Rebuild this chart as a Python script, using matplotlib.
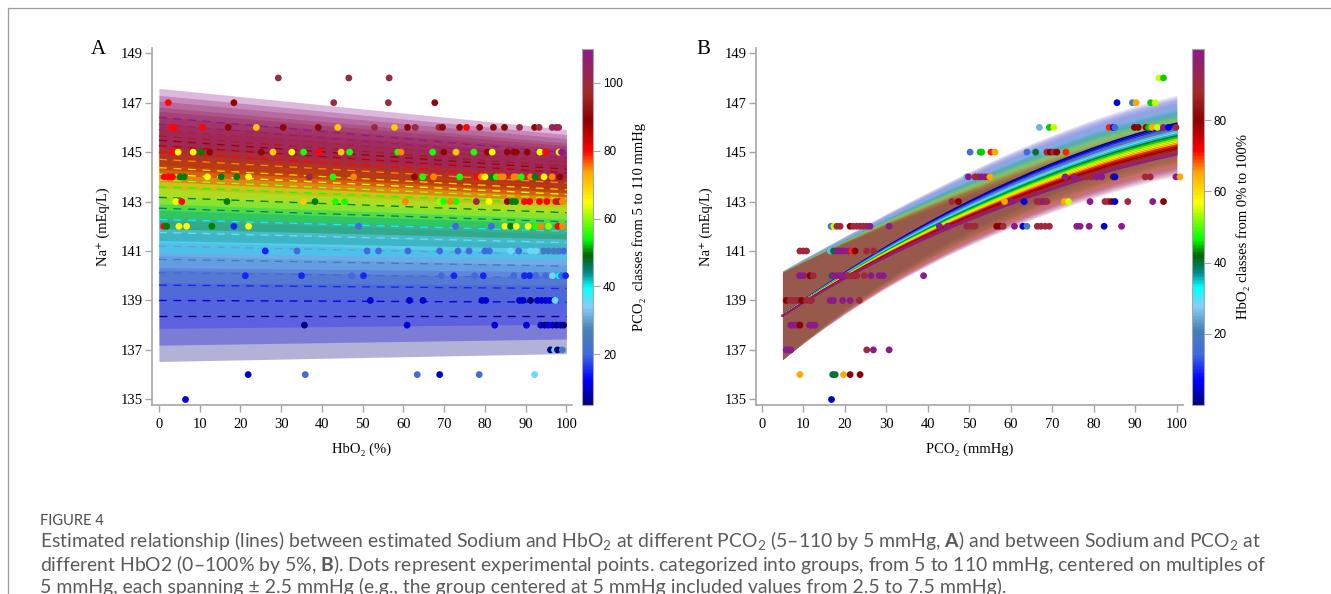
"""
Figure 4: estimated sodium vs HbO2 by PCO2 class (A) and vs PCO2 by HbO2 class (B).
"""

import matplotlib
matplotlib.use("Agg")
import matplotlib.pyplot as plt
import numpy as np
from matplotlib.cm import ScalarMappable
from matplotlib.colors import LinearSegmentedColormap, Normalize
from matplotlib.lines import Line2D

W, H = 1331, 594
SERIF = ["Liberation Serif", "DejaVu Serif"]
SANS = ["Liberation Sans", "DejaVu Sans"]
CAPTION = ["Lato", "DejaVu Sans"]

plt.rcParams["font.family"] = SERIF
plt.rcParams["mathtext.fontset"] = "custom"
plt.rcParams["mathtext.rm"] = "Lato"
plt.rcParams["mathtext.it"] = "Lato:italic"
plt.rcParams["mathtext.bf"] = "Lato:bold"

# class palette, positions given as fraction of the colour range
pal_pos = [0.0, 0.07, 0.14, 0.21, 0.275, 0.33, 0.37, 0.42, 0.465, 0.57, 0.655, 0.715, 0.80, 0.88, 1.0]
pal_col = ["#000080", "#0000ff", "#4169e1", "#4682b4", "#87cefa", "#00ffff", "#008b8b", "#006400",
           "#00ff00", "#ffff00", "#ffa500", "#ff0000", "#8b0000", "#a52a2a", "#8b1a8b"]

# ---------------- panel A: lines over HbO2 for each PCO2 class ----------------
pco2_classes = list(range(5, 111, 5))
a_na_hb0 = [138.38, 139.00, 139.62, 140.12, 140.66, 141.20, 141.75, 142.28, 142.73, 143.17, 143.60,
            143.87, 144.11, 144.37, 144.71, 144.99, 145.26, 145.48, 145.65, 145.90, 146.13, 146.41]
a_na_hb100 = [138.38, 138.93, 139.48, 139.91, 140.39, 140.86, 141.34, 141.80, 142.18, 142.55, 142.91,
              143.12, 143.29, 143.48, 143.75, 143.96, 144.16, 144.31, 144.42, 144.60, 144.76, 144.97]
a_hw_hb0 = [1.85, 1.81, 1.75, 1.66, 1.57, 1.49, 1.42, 1.36, 1.31, 1.27, 1.24,
            1.22, 1.20, 1.19, 1.18, 1.17, 1.17, 1.17, 1.17, 1.17, 1.17, 1.17]
a_hw_hb100 = [1.53, 1.49, 1.44, 1.37, 1.30, 1.24, 1.18, 1.13, 1.09, 1.06, 1.03,
              1.01, 0.99, 0.98, 0.97, 0.96, 0.96, 0.95, 0.95, 0.95, 0.95, 0.95]

a_dot_na = [148, 147, 146, 145, 144, 143, 142, 141, 140, 139, 138, 137, 136, 135]
a_dot_hbo2 = [
    [29.3, 46.6, 56.5],
    [2.3, 18.4, 42.9, 56.3, 67.7],
    [3.1, 3.8, 10.7, 17.0, 23.9, 30.5, 39.1, 43.9, 52.9, 57.8, 61.0, 62.9, 68.7, 69.6, 73.8, 75.5,
     78.7, 82.1, 84.8, 88.5, 92.2, 93.3, 96.5, 97.5, 98.1],
    [3.5, 4.7, 8.4, 10.3, 12.5, 25.1, 28.0, 32.6, 35.5, 39.2, 44.7, 46.8, 58.6, 59.4, 67.2, 69.9,
     72.9, 77.3, 80.6, 81.8, 85.5, 87.1, 87.7, 90.4, 93.5, 94.9, 98.2, 98.8],
    [1.3, 2.3, 3.3, 5.2, 6.2, 11.9, 15.3, 19.1, 22.0, 36.9, 42.7, 47.8, 62.7, 64.7, 67.4, 73.8,
     78.1, 79.1, 80.0, 81.8, 82.8, 83.8, 84.5, 87.1, 87.7, 88.9, 91.2, 92.3, 94.5, 96.5, 98.4],
    [4.1, 5.6, 16.7, 35.5, 38.3, 43.3, 45.6, 60.5, 68.9, 69.9, 71.5, 72.9, 77.9, 81.0, 85.5, 86.7,
     87.5, 89.7, 91.0, 93.4, 95.2, 97.4, 98.2, 99.0],
    [1.2, 1.9, 4.9, 6.8, 13.0, 18.4, 22.0, 49.0, 72.8, 81.6, 84.9, 86.3, 87.7, 90.6, 92.4, 93.7,
     95.6, 97.9, 99.0],
    [26.1, 33.9, 51.1, 53.9, 61.1, 68.9, 73.4, 76.1, 80.0, 81.1, 86.3, 88.3, 91.2, 92.5, 94.4, 95.6,
     96.9, 98.1, 99.3],
    [21.2, 35.0, 47.3, 50.2, 69.3, 72.4, 77.5, 79.6, 87.1, 89.7, 91.0, 92.5, 94.9, 96.6, 98.2, 98.8, 99.8],
    [51.9, 61.5, 64.8, 79.3, 80.2, 88.5, 89.4, 91.2, 92.9, 93.9, 94.9, 95.9, 96.9, 97.2, 99.0],
    [35.7, 60.9, 82.4, 90.2, 93.7, 94.7, 95.6, 96.6, 97.6, 98.6, 99.3],
    [96.1, 97.1, 97.8, 99.0],
    [21.9, 35.9, 63.4, 68.9, 78.6, 92.2],
    [6.3],
]
a_dot_pco2 = [
    [100, 100, 100],
    [80, 90, 100, 100, 90],
    [80, 80, 80, 90, 70, 90, 90, 70, 100, 70, 90, 100, 100, 90, 90, 80,
     90, 90, 90, 100, 90, 100, 100, 110, 100],
    [80, 65, 65, 50, 90, 90, 70, 65, 55, 80, 70, 55, 55, 75, 55, 90,
     70, 55, 90, 65, 90, 90, 90, 90, 65, 80, 65, 110],
    [80, 80, 80, 50, 50, 65, 50, 50, 65, 100, 55, 75, 90, 55, 75, 55,
     80, 75, 65, 50, 55, 75, 75, 75, 75, 55, 75, 50, 65, 75, 90],
    [65, 80, 50, 70, 50, 55, 55, 75, 60, 55, 75, 55, 100, 65, 90, 50,
     50, 80, 80, 80, 80, 80, 100, 75],
    [80, 50, 65, 65, 50, 15, 65, 20, 20, 20, 65, 50, 65, 65, 55, 75, 60, 80, 75],
    [15, 20, 20, 20, 20, 20, 20, 20, 20, 20, 35, 20, 35, 35, 25, 25, 25, 25, 20],
    [15, 15, 20, 15, 20, 15, 20, 15, 20, 15, 15, 20, 20, 35, 40, 20, 15],
    [10, 10, 10, 10, 10, 10, 10, 5, 10, 10, 10, 10, 10, 35, 20],
    [5, 10, 10, 10, 10, 5, 10, 10, 5, 10, 5],
    [5, 35, 5, 25],
    [10, 20, 20, 10, 20, 35],
    [10],
]

# ---------------- panel B: curves over PCO2 for each HbO2 class ----------------
hbo2_classes = list(range(0, 101, 5))
b_pco2 = list(range(5, 101, 5))
b_na_hb0 = [138.40, 139.00, 139.57, 140.12, 140.65, 141.17, 141.66, 142.13, 142.58, 143.01,
            143.42, 143.81, 144.18, 144.53, 144.86, 145.17, 145.46, 145.72, 145.96, 146.17]
b_na_hb100 = [138.37, 138.90, 139.40, 139.87, 140.32, 140.75, 141.15, 141.53, 141.90, 142.24,
              142.57, 142.89, 143.20, 143.49, 143.77, 144.03, 144.28, 144.50, 144.71, 144.89]
b_hw_hb0 = [1.80, 1.68, 1.57, 1.48, 1.40, 1.34, 1.29, 1.25, 1.22, 1.20,
            1.19, 1.18, 1.17, 1.16, 1.15, 1.15, 1.14, 1.14, 1.13, 1.13]
b_hw_hb100 = [1.76, 1.64, 1.53, 1.43, 1.34, 1.26, 1.19, 1.13, 1.08, 1.03,
              0.99, 0.96, 0.94, 0.92, 0.90, 0.89, 0.88, 0.87, 0.86, 0.86]

b_dot_na = [148, 147, 146, 145, 144, 143, 142, 141, 140, 139, 138, 137, 136, 135]
b_dot_pco2 = [
    [95.7, 96.8],
    [85.6, 89.3, 90.2, 93.7, 94.8],
    [66.9, 69.3, 70.4, 83.7, 84.7, 85.1, 89.8, 90.7, 92.6, 93.2, 94.0, 95.3, 96.8, 98.0, 99.8],
    [50.2, 52.6, 53.0, 55.2, 56.2, 63.9, 66.0, 68.0, 68.7, 69.5, 70.3, 71.1, 73.3],
    [49.4, 49.8, 51.4, 52.2, 53.0, 53.8, 54.6, 55.0, 73.1, 75.3, 78.3, 79.5, 80.7, 81.9, 84.7,
     85.1, 92.4, 93.6, 99.8, 100.8],
    [45.8, 47.4, 58.5, 60.2, 63.2, 66.3, 67.1, 67.9, 68.7, 72.9, 73.9, 79.1, 82.7, 83.5, 84.3,
     85.1, 88.2, 94.2, 96.8],
    [16.7, 17.4, 18.1, 18.9, 21.3, 22.1, 22.9, 23.7, 24.5, 25.3, 26.1, 30.7, 42.8, 44.8, 49.4,
     50.4, 51.4, 56.6, 57.4, 58.2, 60.9, 62.9, 63.9, 66.4, 67.3, 68.3, 69.3, 75.9, 76.7, 78.9,
     82.5, 86.7],
    [9.2, 10.0, 10.8, 16.5, 17.3, 18.1, 18.9, 19.8, 20.9, 21.7, 22.5, 25.3, 27.0],
    [9.1, 10.0, 11.6, 12.4, 16.9, 17.2, 18.1, 18.9, 19.7, 20.5, 20.8, 21.7, 22.5, 22.9, 24.7,
     26.3, 28.3, 29.3, 39.0],
    [5.9, 6.8, 7.6, 8.4, 9.2, 9.6, 10.8, 11.6, 12.0, 16.5, 17.3, 19.5, 21.3, 23.5],
    [7.0, 7.7, 8.4, 9.2, 11.5, 12.1, 12.8],
    [5.9, 6.4, 7.0, 25.3, 26.9, 30.7],
    [9.2, 17.1, 17.7, 19.7, 21.3, 23.7],
    [16.7],
]
b_dot_hbo2 = [
    [55, 45],
    [5, 20, 65, 45, 55],
    [25, 45, 55, 70, 5, 15, 80, 80, 80, 45, 65, 55, 100, 5, 90],
    [15, 45, 45, 70, 65, 15, 40, 25, 90, 80, 90, 80, 70],
    [25, 100, 90, 90, 100, 100, 90, 65, 100, 100, 90, 90, 100, 100, 80, 5, 90, 90, 100, 65],
    [90, 80, 65, 100, 5, 90, 90, 100, 90, 65, 55, 100, 90, 90, 80, 5, 90, 100, 80],
    [20, 55, 90, 90, 80, 90, 90, 90, 90, 90, 100, 100, 100, 100, 90, 90, 90, 80, 80, 90,
     100, 5, 20, 90, 90, 90, 90, 100, 100, 100, 5, 100],
    [90, 90, 90, 25, 40, 100, 100, 100, 100, 70, 80, 90, 90],
    [100, 100, 80, 90, 40, 100, 100, 100, 100, 100, 90, 90, 90, 90, 90, 100, 100, 100, 100],
    [80, 90, 90, 90, 90, 80, 90, 90, 90, 100, 100, 100, 100, 90],
    [100, 100, 100, 80, 100, 100, 100],
    [100, 100, 100, 90, 100, 100],
    [65, 40, 40, 65, 80, 80],
    [5],
]

na_ticks = list(range(135, 150, 2))
x_ticks = list(range(0, 101, 10))

cmap = LinearSegmentedColormap.from_list("classes", list(zip(pal_pos, pal_col)))
norm_a = Normalize(5, 110)
norm_b = Normalize(0, 100)


def rect(left, top, right, bottom):
    return [left / W, 1 - bottom / H, (right - left) / W, (bottom - top) / H]


def style_axes(ax, xlim, xlabel):
    ax.set_xlim(*xlim)
    ax.set_ylim(134.77, 149.2)
    ax.set_xticks(x_ticks)
    ax.set_yticks(na_ticks)
    for side in ("top", "right"):
        ax.spines[side].set_visible(False)
    for side in ("left", "bottom"):
        ax.spines[side].set_color("#a6a6a6")
        ax.spines[side].set_linewidth(1.2)
    ax.tick_params(axis="both", colors="#a6a6a6", labelcolor="black", length=5, width=1,
                   labelsize=10.5)
    ax.tick_params(axis="y", pad=1.5)
    ax.tick_params(axis="x", pad=4)
    ax.set_xlabel(xlabel, fontsize=10.5, labelpad=9)
    ax.set_ylabel("Na\u207a (mEq/L)", fontsize=10.5, labelpad=8)


def add_colorbar(cax, norm, ticks, label):
    cb = fig.colorbar(ScalarMappable(norm=norm, cmap=cmap), cax=cax, ticks=ticks)
    cb.outline.set_edgecolor("#a6a6a6")
    cb.outline.set_linewidth(0.8)
    cax.tick_params(length=5, width=0.8, color="#a6a6a6", labelsize=8.5, pad=2)
    for lab in cax.get_yticklabels():
        lab.set_fontfamily(SANS)
    cb.set_label(label, fontsize=10.5, labelpad=7)


fig = plt.figure(figsize=(W / 100, H / 100), dpi=100)

# frame lines of the page
fig.add_artist(Line2D([8 / W, 8 / W], [0, 1 - 8 / H], transform=fig.transFigure, color="#9a9a9a", lw=0.9))
fig.add_artist(Line2D([8 / W, 1], [1 - 8 / H, 1 - 8 / H], transform=fig.transFigure, color="#9a9a9a", lw=0.9))

# ---- panel A
ax_a = fig.add_axes(rect(152, 48.3, 571.7, 405))
hb_ends = [0, 100]
for p, l, r, wl, wr in zip(pco2_classes, a_na_hb0, a_na_hb100, a_hw_hb0, a_hw_hb100):
    ax_a.fill_between(hb_ends, [l - wl, r - wr], [l + wl, r + wr], color=cmap(norm_a(p)),
                      alpha=0.3, lw=0, zorder=1)
for p, l, r in zip(pco2_classes, a_na_hb0, a_na_hb100):
    ax_a.plot(hb_ends, [l, r], color=cmap(norm_a(p)), lw=0.95, dashes=(6, 5), zorder=2)
for na, hbs, ps in zip(a_dot_na, a_dot_hbo2, a_dot_pco2):
    ax_a.scatter(hbs, [na] * len(hbs), c=ps, cmap=cmap, norm=norm_a, s=24, lw=0, zorder=3)
style_axes(ax_a, (-1.7, 101.3), "HbO\u2082 (%)")

cax_a = fig.add_axes(rect(581.7, 49, 593.3, 405))
add_colorbar(cax_a, norm_a, [20, 40, 60, 80, 100], "PCO\u2082  classes from 5 to 110 mmHg")

# ---- panel B
ax_b = fig.add_axes(rect(755.5, 48.3, 1183, 405))
na0, na100 = np.array(b_na_hb0), np.array(b_na_hb100)
hw0, hw100 = np.array(b_hw_hb0), np.array(b_hw_hb100)
for h in hbo2_classes:
    t = h / 100
    mid = na0 + t * (na100 - na0)
    hw = hw0 + t * (hw100 - hw0)
    ax_b.fill_between(b_pco2, mid - hw, mid + hw, color=cmap(norm_b(h)), alpha=0.12, lw=0, zorder=1)
for h in hbo2_classes:
    t = h / 100
    ax_b.plot(b_pco2, na0 + t * (na100 - na0), color=cmap(norm_b(h)), lw=1.1, zorder=2)
for na, ps, hs in zip(b_dot_na, b_dot_pco2, b_dot_hbo2):
    ax_b.scatter(ps, [na] * len(ps), c=hs, cmap=cmap, norm=norm_b, s=24, lw=0, zorder=3)
style_axes(ax_b, (-1.5, 101.5), "PCO\u2082 (mmHg)")

cax_b = fig.add_axes(rect(1191.7, 49, 1204, 405))
add_colorbar(cax_b, norm_b, [20, 40, 60, 80], "HbO\u2082 classes from 0% to 100%")

# panel letters
fig.text(98 / W, 1 - 50 / H, "A", fontsize=15, ha="center", va="center")
fig.text(703 / W, 1 - 50 / H, "B", fontsize=15, ha="center", va="center")

# ---- caption
cap_color = "#5a5a5a"
fig.text(40 / W, 1 - 521 / H, "FIGURE 4", fontsize=10.5, family=CAPTION, color="#4a4a4a",
         va="center", ha="left")
cap_lines = [
    "Estimated relationship (lines) between estimated Sodium and HbO$_\\mathrm{2}$ at different "
    "PCO$_\\mathrm{2}$ (5\u2013110 by 5 mmHg, $\\mathbf{A}$) and between Sodium and PCO$_\\mathrm{2}$ at",
    "different HbO2 (0\u2013100% by 5%, $\\mathbf{B}$). Dots represent experimental points. "
    "categorized into groups, from 5 to 110 mmHg, centered on multiples of",
    "5 mmHg, each spanning \u00b1 2.5 mmHg (e.g., the group centered at 5 mmHg included values "
    "from 2.5 to 7.5 mmHg).",
]
cap_y = [541, 564, 587]
cap_texts = [fig.text(40 / W, 1 - y / H, s, fontsize=11, family=CAPTION, color=cap_color,
                      va="center", ha="left") for s, y in zip(cap_lines, cap_y)]

# fit the first caption line to its width in the reference
fig.canvas.draw()
renderer = fig.canvas.get_renderer()
width = cap_texts[0].get_window_extent(renderer).width
for t in cap_texts:
    t.set_fontsize(11 * 1223 / width)

fig.savefig("out.png", dpi=100)
